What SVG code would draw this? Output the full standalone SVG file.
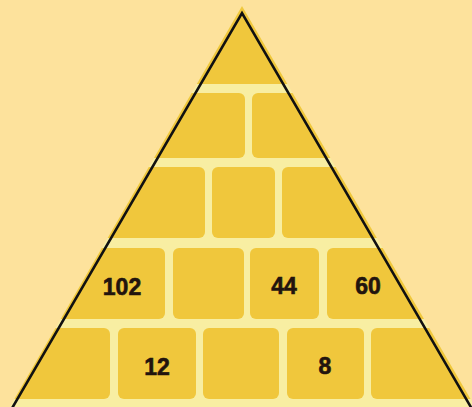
<svg xmlns="http://www.w3.org/2000/svg" width="472" height="407" viewBox="0 0 472 407">
  <style>
    .brick { fill: #F0C73C; }
    .num { font-family: "Liberation Sans", Arial, sans-serif; font-weight: bold; font-size: 23px; fill: #22140E; stroke: #22140E; stroke-width: 0.6; text-anchor: middle; }
  </style>
  <defs>
    <clipPath id="pyr">
      <polygon points="242,6 8,410 477,410"/>
    </clipPath>
  </defs>
  <rect width="472" height="407" fill="#FDE29C"/>
  <g id="pyramid" clip-path="url(#pyr)">
    <rect x="0" y="0" width="472" height="407" fill="#F8EEA2"/>
    <g id="row1">
      <rect class="brick" x="-10" y="-10" width="492" height="94" rx="6"/>
    </g>
    <g id="row2">
      <rect class="brick" x="-10" y="93" width="255" height="65" rx="6"/>
      <rect class="brick" x="252" y="93" width="230" height="65" rx="6"/>
    </g>
    <g id="row3">
      <rect class="brick" x="-10" y="167" width="215" height="71" rx="6"/>
      <rect class="brick" x="212" y="167" width="63" height="71" rx="6"/>
      <rect class="brick" x="282" y="167" width="200" height="71" rx="6"/>
    </g>
    <g id="row4">
      <rect class="brick" x="-10" y="248" width="175" height="71" rx="6"/>
      <rect class="brick" x="173" y="248" width="71" height="71" rx="6"/>
      <rect class="brick" x="250" y="248" width="69" height="71" rx="6"/>
      <rect class="brick" x="327" y="248" width="155" height="71" rx="6"/>
    </g>
    <g id="row5">
      <rect class="brick" x="-10" y="328" width="120" height="71" rx="6"/>
      <rect class="brick" x="118" y="328" width="78" height="71" rx="6"/>
      <rect class="brick" x="203" y="328" width="76" height="71" rx="6"/>
      <rect class="brick" x="287" y="328" width="77" height="71" rx="6"/>
      <rect class="brick" x="371" y="328" width="111" height="71" rx="6"/>
    </g>
  </g>
  <g id="outline">
    <polyline points="11,410 242,13 472,409" fill="none" stroke="#111111" stroke-width="2.6" stroke-linejoin="miter"/>
  </g>
  <g id="labels">
    <text class="num" x="122" y="295">102</text>
    <text class="num" x="284" y="294">44</text>
    <text class="num" x="368" y="294">60</text>
    <text class="num" x="157" y="375">12</text>
    <text class="num" x="325" y="374">8</text>
  </g>
</svg>
